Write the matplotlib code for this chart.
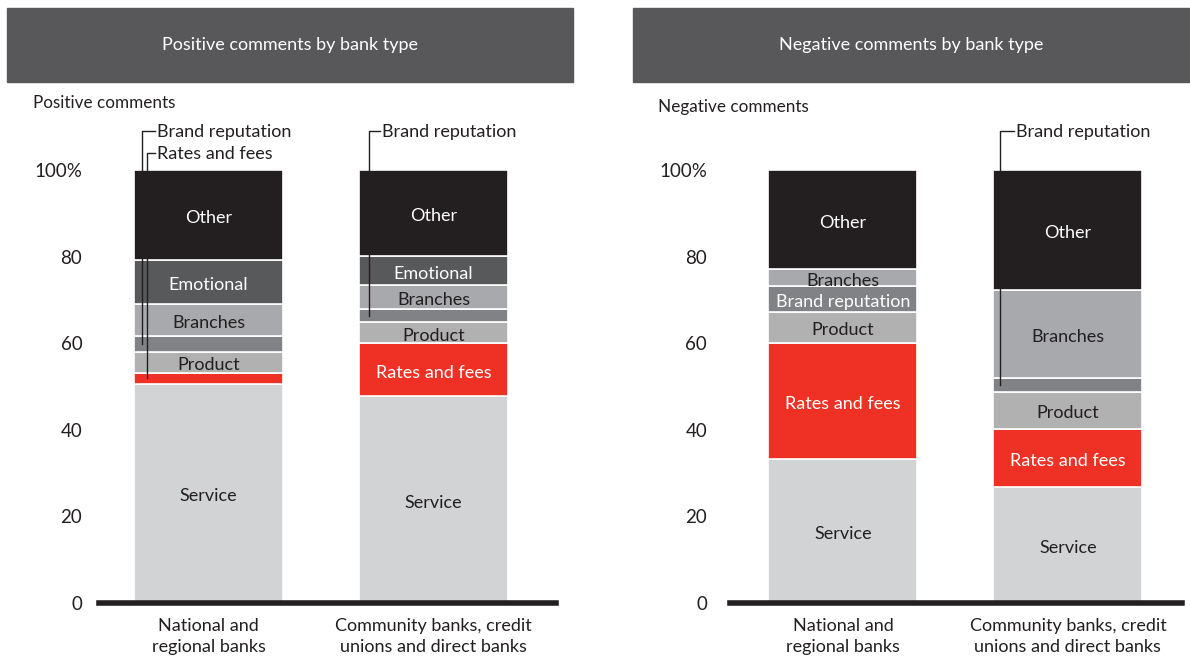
import matplotlib.pyplot as plt
from matplotlib.patches import Rectangle

plt.rcParams["font.family"] = ["Lato", "DejaVu Sans"]

W, H = 1190, 661

categories = ["National and\nregional banks", "Community banks, credit\nunions and direct banks"]
segments = ["Service", "Rates and fees", "Product", "Brand reputation", "Branches", "Emotional", "Other"]

positive_national = [50.6, 2.6, 4.8, 3.7, 7.3, 10.2, 20.8]
positive_community = [47.8, 12.2, 4.8, 3.0, 5.6, 6.7, 19.9]
negative_national = [33.3, 26.7, 7.3, 5.9, 3.9, 0.0, 22.9]
negative_community = [26.8, 13.5, 8.5, 3.1, 20.5, 0.0, 27.6]

yticks = [0, 20, 40, 60, 80, 100]
ytick_labels = ["0", "20", "40", "60", "80", "100%"]

colors = {
    "Service": "#d1d3d4",
    "Rates and fees": "#ee3124",
    "Product": "#b1b1b2",
    "Brand reputation": "#808285",
    "Branches": "#a7a9ac",
    "Emotional": "#58595b",
    "Other": "#231f20",
}
light_text = {"Rates and fees", "Brand reputation", "Emotional", "Other"}
dark = "#231f20"
FS = 13

fig = plt.figure(figsize=(W / 100, H / 100), dpi=100)

BAR_W = 0.662
PX = 1 / 225  # one pixel in x data units


def px_axes(x0, x1, y0, y1):
    return fig.add_axes([x0 / W, 1 - y1 / H, (x1 - x0) / W, (y1 - y0) / H])


def header(x0, x1, text):
    fig.patches.append(Rectangle((x0 / W, 1 - 82 / H), (x1 - x0) / W, 74 / H,
                                 transform=fig.transFigure, color="#58585a", zorder=0))
    fig.text((x0 + x1) / 2 / W, 1 - 45 / H, text, color="white", fontsize=FS,
             ha="center", va="center")


def draw_panel(ax, values, callouts, xlim, tick_pad):
    for i, vals in enumerate(values):
        bottom = 0
        mids = {}
        for name, v in zip(segments, vals):
            if v <= 0:
                continue
            ax.bar(i, v, bottom=bottom, width=BAR_W, color=colors[name],
                   edgecolor="white", linewidth=1.2, zorder=2)
            mids[name] = bottom + v / 2
            if name not in [c[0] for c in callouts[i]]:
                tc = "white" if name in light_text else dark
                ax.text(i, bottom + v / 2 - 0.7, name, ha="center", va="center",
                        color=tc, fontsize=FS, zorder=4)
            bottom += v
        left = i - BAR_W / 2
        for name, dx, ty in callouts[i]:
            lx = left + dx * PX
            tx = left + 23 * PX
            ax.plot([lx, lx, tx - 2 * PX], [mids[name], ty, ty], color=dark,
                    lw=1.0, clip_on=False, zorder=5)
            ax.text(tx, ty - 0.3, name, ha="left", va="center", color=dark,
                    fontsize=FS, clip_on=False)
    ax.axhline(0, color=dark, lw=4, zorder=6, clip_on=False)
    ax.set_xlim(*xlim)
    ax.set_ylim(0, 100)
    ax.set_yticks(yticks)
    ax.set_yticklabels(ytick_labels, fontsize=13.5, color=dark)
    ax.set_xticks(range(len(categories)))
    ax.set_xticklabels(categories, fontsize=FS, color=dark, linespacing=1.4)
    ax.tick_params(axis="y", length=0, pad=tick_pad)
    ax.tick_params(axis="x", length=0, pad=11)
    for s in ax.spines.values():
        s.set_visible(False)


# positive comments
header(7, 573, "Positive comments by bank type")
ax1 = px_axes(99, 556, 170, 603)
draw_panel(ax1, [positive_national, positive_community],
           [[("Brand reputation", 8, 109.0), ("Rates and fees", 13, 103.9)],
            [("Brand reputation", 10, 109.0)]],
           (-0.487, 1.544), 12)
fig.text(33 / W, 1 - 103 / H, "Positive comments", fontsize=12.3, color=dark,
         ha="left", va="center")

# negative comments
header(633, 1190, "Negative comments by bank type")
ax2 = px_axes(730, 1182, 170, 603)
draw_panel(ax2, [negative_national, negative_community],
           [[], [("Brand reputation", 7, 109.0)]],
           (-0.502, 1.507), 16.5)
fig.text(658 / W, 1 - 107 / H, "Negative comments", fontsize=12.3, color=dark,
         ha="left", va="center")

fig.savefig("out.png", dpi=100)
